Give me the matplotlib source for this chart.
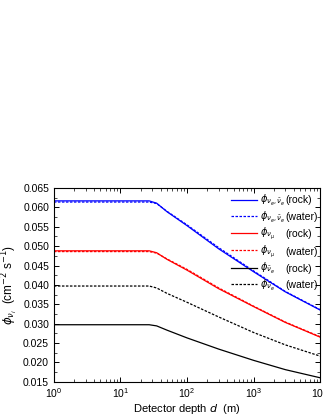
import matplotlib
matplotlib.use("Agg")
import matplotlib.pyplot as plt
from matplotlib.ticker import MultipleLocator, LogLocator, NullFormatter

plt.rcParams['font.family'] = ['Liberation Sans', 'DejaVu Sans']
plt.rcParams['mathtext.fontset'] = 'dejavusans'

# depth in m
depth = [1, 10, 27, 35, 50, 100, 300, 1000, 3000, 10000]

# fluxes (cm^-2 s^-1)
blue_rock = [0.0617, 0.0617, 0.0617, 0.0611, 0.0589, 0.0553, 0.0493, 0.0434, 0.0382, 0.0335]
blue_water = [0.0614, 0.0614, 0.0614, 0.0610, 0.0590, 0.0555, 0.0496, 0.0436, 0.0383, 0.0336]
red_rock = [0.0488, 0.0488, 0.0488, 0.0483, 0.0466, 0.0438, 0.0390, 0.0344, 0.0303, 0.0265]
red_water = [0.0486, 0.0486, 0.0486, 0.0482, 0.0467, 0.0440, 0.0392, 0.0345, 0.0304, 0.0266]
black_rock = [0.0297, 0.0297, 0.0297, 0.0294, 0.0283, 0.0263, 0.0234, 0.0205, 0.0181, 0.0160]
black_water = [0.0397, 0.0397, 0.0397, 0.0392, 0.0378, 0.0355, 0.0317, 0.0277, 0.0245, 0.0216]

labels = [r'$\phi_{\nu_e,\bar{\nu}_e}$', r'$\phi_{\nu_e,\bar{\nu}_e}$',
          r'$\phi_{\nu_\mu}$', r'$\phi_{\nu_\mu}$',
          r'$\phi_{\bar{\nu}_e}$', r'$\phi_{\bar{\nu}_e}$']
media = ['(rock)', '(water)', '(rock)', '(water)', '(rock)', '(water)']

fig = plt.figure(figsize=(3.23, 4.18), dpi=100)
ax = fig.add_axes([0.167, 0.087, 0.824, 0.463])

dash = (0, (2, 1.2))
ax.plot(depth, blue_rock, color='blue', lw=0.9, label=labels[0])
ax.plot(depth, blue_water, color='blue', lw=0.9, ls=dash, label=labels[1])
ax.plot(depth, red_rock, color='red', lw=0.9, label=labels[2])
ax.plot(depth, red_water, color='red', lw=0.9, ls=dash, label=labels[3])
ax.plot(depth, black_rock, color='black', lw=0.9, label=labels[4])
ax.plot(depth, black_water, color='black', lw=0.9, ls=dash, label=labels[5])

ax.set_xscale('log')
ax.set_xlim(1, 1e4)
ax.set_ylim(0.015, 0.065)
ax.yaxis.set_major_locator(MultipleLocator(0.005))
ax.yaxis.set_minor_locator(MultipleLocator(0.0025))
ax.yaxis.set_major_formatter(matplotlib.ticker.FormatStrFormatter('%.3f'))
ax.xaxis.set_minor_locator(LogLocator(base=10, subs=range(2, 10)))
ax.xaxis.set_minor_formatter(NullFormatter())
ax.tick_params(which='both', direction='in', top=True, right=True, labelsize=7.5)
ax.tick_params(which='major', length=3.5, width=0.7)
ax.tick_params(which='minor', length=2, width=0.5)
for s in ax.spines.values():
    s.set_linewidth(0.8)

ax.set_xlabel(r'Detector depth $d$  (m)', fontsize=8, labelpad=1)
ax.set_ylabel(r'$\phi_{\nu_i}$  (cm$^{-2}$ s$^{-1}$)', fontsize=8.5, labelpad=2)

leg = ax.legend(loc='upper left', bbox_to_anchor=(0.665, 0.975), frameon=False,
                fontsize=7, handlelength=2.7, handletextpad=0.3, labelspacing=0.15,
                borderaxespad=0, borderpad=0)

# medium column next to the legend entries
fig.canvas.draw()
inv = ax.transAxes.inverted()
for txt, m in zip(leg.get_texts(), media):
    bb = txt.get_window_extent()
    yc = inv.transform((0, (bb.y0 + bb.y1) / 2))[1]
    ax.text(0.87, yc, m, transform=ax.transAxes, fontsize=7.5, va='center', ha='left')

fig.savefig('out.png', dpi=100)
